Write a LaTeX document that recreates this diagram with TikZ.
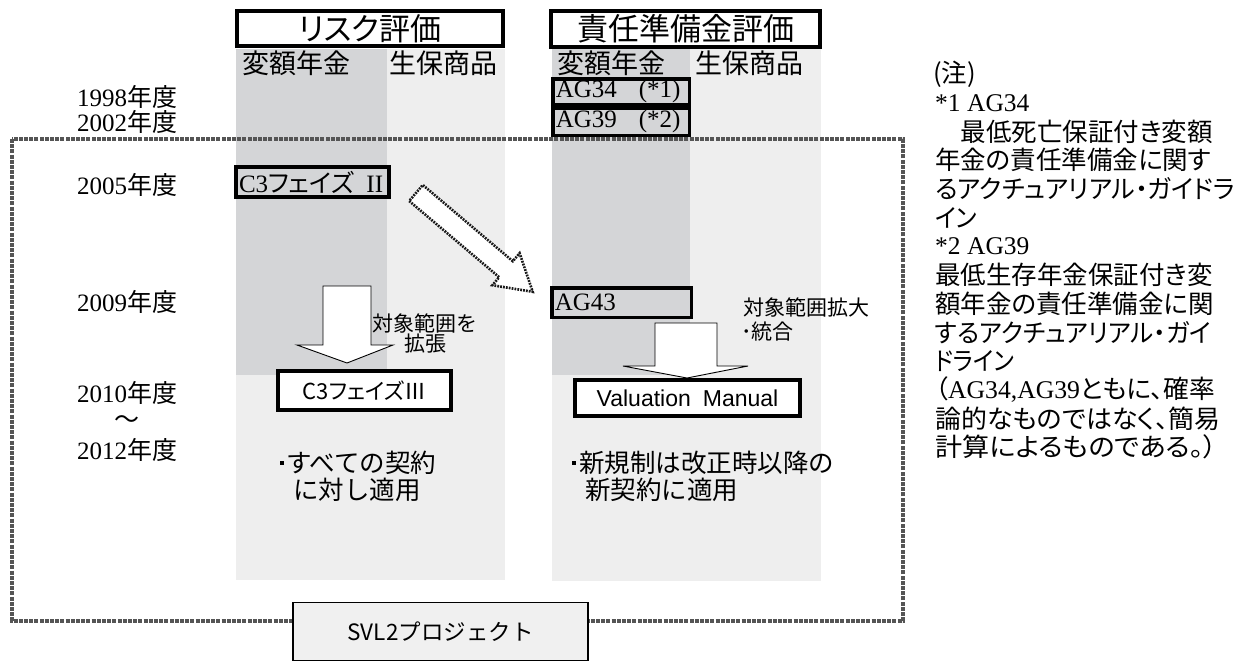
\documentclass[tikz,border=0pt]{standalone}
\usepackage{fontspec}
\usepackage{graphicx}
\setmainfont{Noto Sans CJK JP}
\newfontfamily\jpp{Noto Sans CJK JP}[RawFeature=+palt]
\newfontfamily\ser{Liberation Serif}
\newfontfamily\ars{Liberation Sans}
\newcommand\fsz[1]{\fontsize{#1}{#1}\selectfont}
\newcommand\bul{\raisebox{0.32em}{\rule{4pt}{4pt}}}
\newcommand\fitw[2]{\resizebox{#1}{\height}{#2}}
\definecolor{dg}{RGB}{212,213,215}
\definecolor{lg}{RGB}{238,238,238}
\definecolor{sv}{RGB}{240,240,240}
\definecolor{fr}{RGB}{85,85,85}
\begin{document}
\begin{tikzpicture}[x=1pt,y=-1pt,
  lbl/.style={inner sep=0pt, anchor=west},
  yr/.style={lbl, font=\fsz{25}},
  hdr/.style={lbl, font=\jpp\fsz{27}},
  note/.style={lbl, font=\jpp\fsz{25.5}},
  titlebox/.style={draw, line width=4pt, fill=white, inner sep=0pt, font=\jpp\fsz{31}},
  serbox/.style={draw, line width=3.5pt, inner xsep=3pt, inner ysep=0pt, align=left, font=\fsz{25}},
  resbox/.style={draw, line width=4pt, fill=white, inner sep=0pt},
  blockarrow/.style={draw, line width=0.9pt, fill=white},
  dotarrow/.style={draw=black!90, line width=2.6pt, dash pattern=on 1.8pt off 1.1pt, fill=white},
  frame/.style={draw=fr, line width=3.2pt, dash pattern=on 4pt off 1.2pt},
  sidelbl/.style={inner sep=0pt, font=\fsz{21}},
  bullet/.style={lbl, font=\fsz{25.5}}
]
\useasboundingbox (0,0) rectangle (1238,662);
% column backgrounds
\fill[lg] (236,49) rectangle (505,580);
\fill[dg] (236,49) rectangle (387,375);
\fill[lg] (552,49) rectangle (821,581);
\fill[dg] (552,49) rectangle (690,375);
% SVL2 frame
\draw[frame] (12,139) rectangle (903,621);
% titles
\node[titlebox, minimum width=266pt, minimum height=35pt] (t1) at (370,28.5) {リスク評価};
\node[titlebox, minimum width=269pt, minimum height=36pt] (t2) at (685.5,29) {責任準備金評価};
% headers
\node[hdr] (h1) at (242,63) {変額年金};
\node[hdr] (h2) at (389,63) {生保商品};
\node[hdr] (h3) at (557,63) {変額年金};
\node[hdr] (h4) at (695,63) {生保商品};
% years
\node[yr] (y1) at (77,97) {{\ser 1998}年度};
\node[yr] (y2) at (77,122) {{\ser 2002}年度};
\node[yr] (y3) at (77,185) {{\ser 2005}年度};
\node[yr] (y4) at (77,302) {{\ser 2009}年度};
\node[yr] (y5) at (77,393) {{\ser 2010}年度};
\node[inner sep=0pt, font=\fsz{25}] (y6) at (127,422) {～};
\node[yr] (y7) at (77,450) {{\ser 2012}年度};
% boxes with serif text
\node[serbox, text width=147pt, minimum height=30pt] (c2) at (312.5,182) {{\ser C3}{\jpp フェイズ}{\ser\ \,II}};
\node[serbox, text width=130.5pt, minimum height=25.5pt] (ag34) at (621,91.5) {{\ser AG34\hspace{22pt}(*1)}};
\node[serbox, text width=130.5pt, minimum height=27.5pt] (ag39) at (621,121.5) {{\ser AG39\hspace{22pt}(*2)}};
\node[serbox, text width=133.5pt, minimum height=29.5pt] (ag43) at (621.5,302.5) {{\ser AG43}};
% block arrows
\draw[blockarrow] (323,286) -- (371,286) -- (371,345) -- (393,345) -- (347,363) -- (297,345) -- (323,345) -- cycle;
\draw[blockarrow] (655,323) -- (717,323) -- (717,366) -- (748,366) -- (687,378) -- (623,366) -- (655,366) -- cycle;
\draw[dotarrow] (409.2,201) -- (499.2,277.2) -- (492.4,285.2) -- (532.7,291.8) -- (519.6,253.2) -- (512.8,261.2) -- (422.8,185) -- cycle;
% result boxes
\node[resbox, minimum width=173pt, minimum height=39pt, font=\jpp\fsz{22}] (c3) at (364.5,390.5) {C3フェイズⅢ};
\node[resbox, minimum width=225pt, minimum height=36pt, font=\ars\fsz{23}] (vm) at (687.5,398) {Valuation\hspace{12pt}Manual};
% side labels
\node[sidelbl, align=center, font=\fontsize{21}{20}\selectfont] (l1) at (425,333.5) {対象範囲を\\拡張};
\node[sidelbl, anchor=west] (l2a) at (743,307) {対象範囲拡大};
\node[sidelbl, anchor=west] (l2b) at (741,332) {･統合};
% bullets
\node[bullet] (b1a) at (280,463) {\bul\hspace{2pt}すべての契約};
\node[bullet] (b1b) at (293,490) {に対し適用};
\node[bullet] (b2a) at (572,463) {\bul\hspace{3pt}新規制は改正時以降の};
\node[bullet] (b2b) at (585,490) {新契約に適用};
% SVL2 project
\node[draw, line width=1.2pt, fill=sv, minimum width=295pt, minimum height=57.5pt, font=\fsz{22.5}] (svl) at (440.5,631.5) {SVL2プロジェクト};
% notes
\node[note] (n0) at (933,74) {(注)};
\node[note] (n1) at (935,102.7) {{\ser *1 AG34}};
\node[note] (n2) at (935,131.4) {\hspace{1em}最低死亡保証付き変額};
\node[note] (n3) at (935,160.1) {年金の責任準備金に関す};
\node[note] (n4) at (935,188.8) {\fitw{300pt}{るアクチュアリアル・ガイドラ}};
\node[note] (n5) at (935,217.5) {\fitw{42pt}{イン}};
\node[note] (n6) at (935,246.2) {{\ser *2 AG39}};
\node[note] (n7) at (935,274.9) {最低生存年金保証付き変};
\node[note] (n8) at (935,303.6) {額年金の責任準備金に関};
\node[note] (n9) at (935,332.3) {\fitw{276pt}{するアクチュアリアル・ガイ}};
\node[note] (n10) at (935,361) {\fitw{79pt}{ドライン}};
\node[note] (n11) at (935,389.7) {\fitw{280pt}{（{\ser AG34,AG39}ともに、確率}};
\node[note] (n12) at (935,418.4) {\fitw{285pt}{論的なものではなく、簡易}};
\node[note] (n13) at (935,447.1) {\fitw{282pt}{計算によるものである。）}};
\end{tikzpicture}
\end{document}
